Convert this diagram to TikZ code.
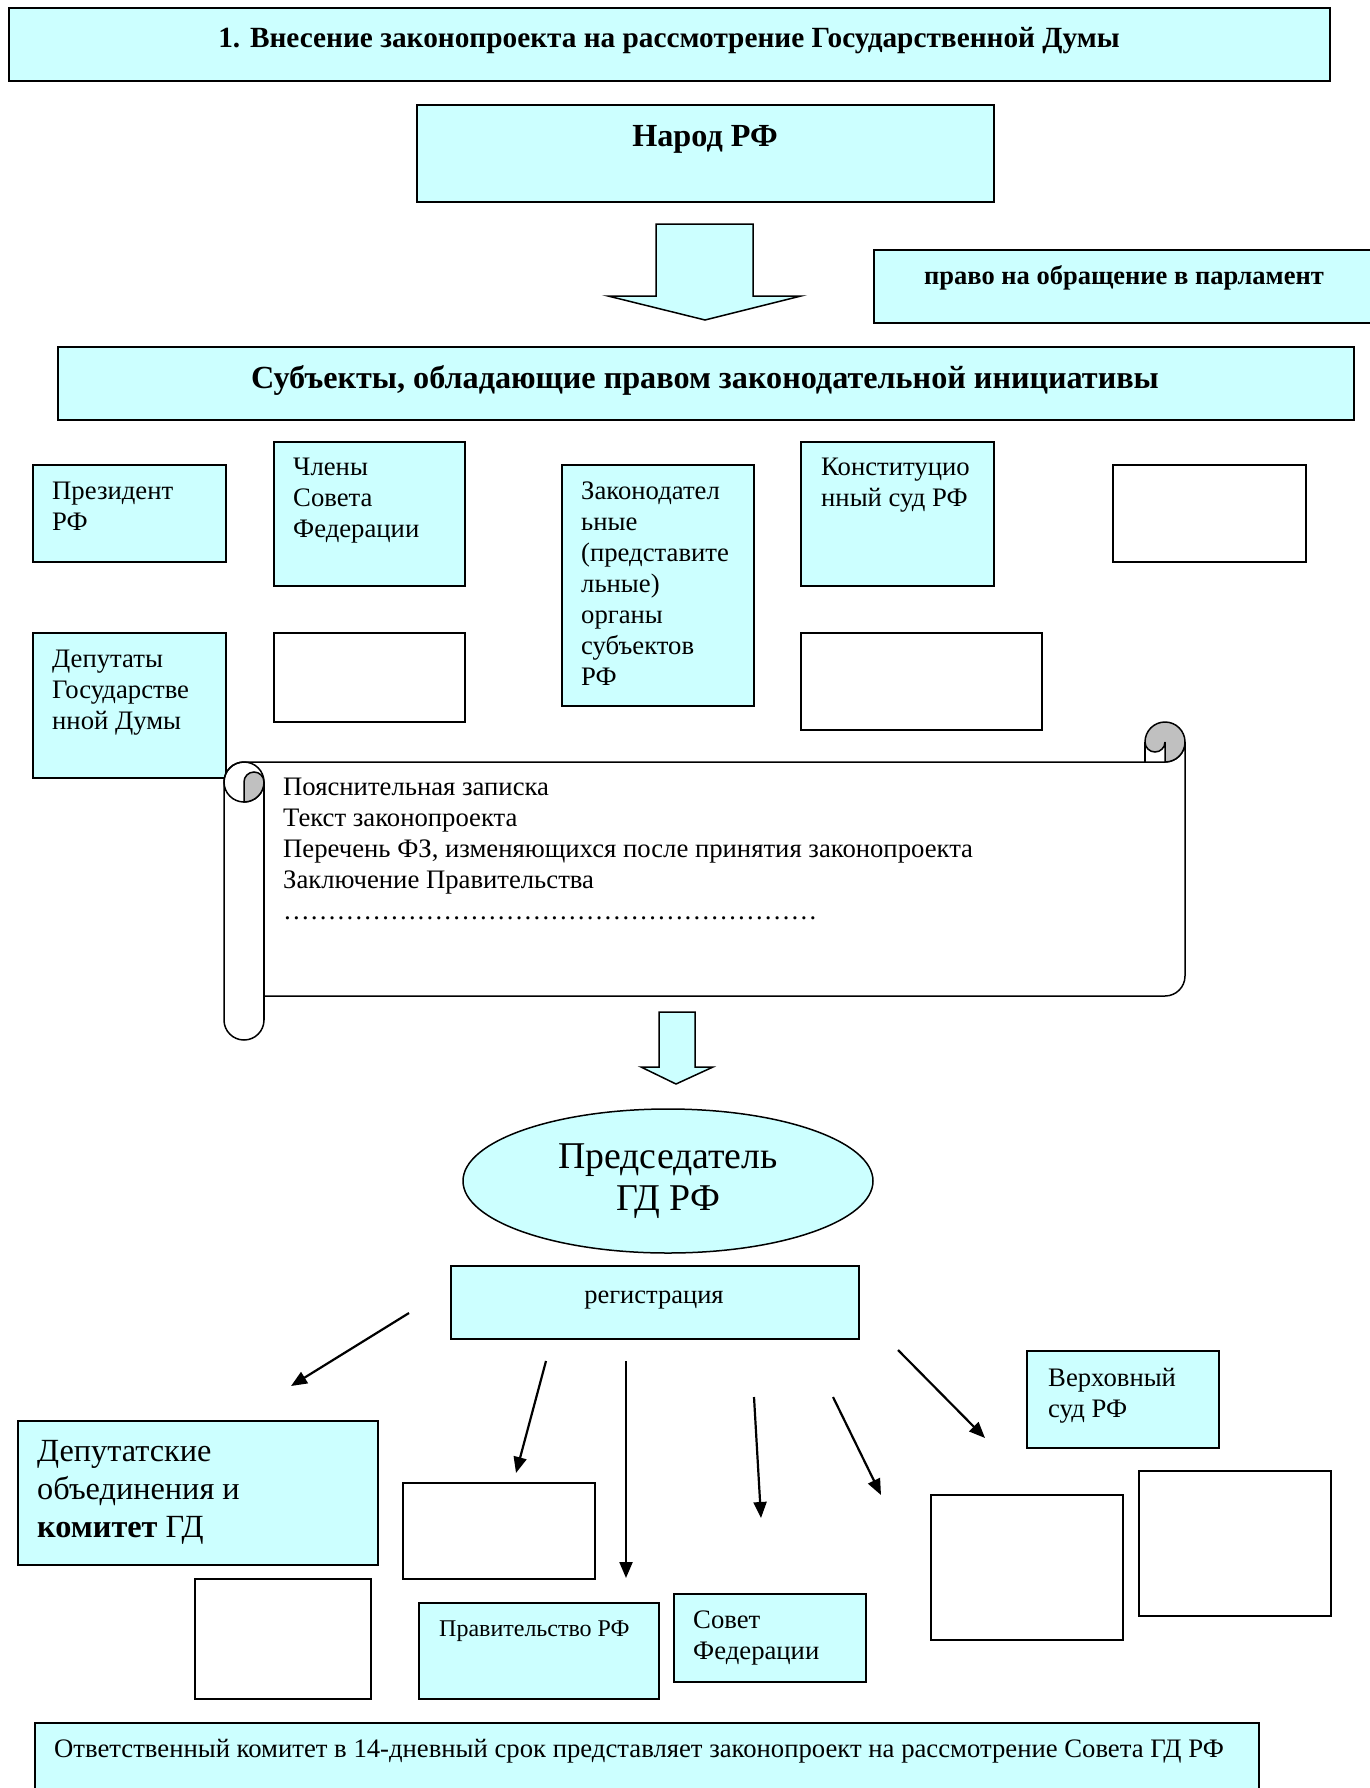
\documentclass[tikz,border=0pt]{standalone}
\usepackage{fontspec}
\setmainfont{Liberation Serif}
\usetikzlibrary{arrows.meta,shapes.geometric}

\definecolor{pale}{HTML}{CCFFFF}
\definecolor{curl}{HTML}{C0C0C0}

\begin{document}
\begin{tikzpicture}[x=1pt,y=-1pt,
  cbox/.style={draw, line width=1.5pt, fill=pale, anchor=north west, inner sep=0pt},
  wbox/.style={cbox, fill=white},
  txt/.style={anchor=base west, align=left, inner sep=0pt, font=\fontsize{26.7}{31}\selectfont},
  small/.style={txt, font=\fontsize{24}{29}\selectfont},
  head/.style={anchor=base, inner sep=0pt, font=\fontsize{29.3}{34}\selectfont\bfseries},
  bighead/.style={head, font=\fontsize{32.2}{38}\selectfont\bfseries},
  arr/.style={line width=2.2pt, -{Triangle[length=16pt,width=13pt]}},
  fat/.style={draw, line width=1.5pt, fill=pale},
  scroll/.style={draw, line width=1.5pt}]

\useasboundingbox (0,0) rectangle (1370,1788);

% boxes, top part
\node[cbox, minimum width=1321pt, minimum height=73pt] (title) at (8,7) {};
\node[head] (titleT) at (669,47) {1. Внесение законопроекта на рассмотрение Государственной Думы};
\node[cbox, minimum width=577pt, minimum height=97pt] (narod) at (416,104) {};
\node[bighead] (narodT) at (705,146) {Народ РФ};
\node[cbox, minimum width=520pt, minimum height=73pt] (pravo) at (873,249) {};
\node[head, font=\fontsize{26.5}{31}\selectfont\bfseries] (pravoT) at (1124,284) {право на обращение в парламент};
\node[cbox, minimum width=1296pt, minimum height=73pt] (subj) at (57,346) {};
\node[bighead] (subjT) at (705,388) {Субъекты, обладающие правом законодательной инициативы};

\filldraw[fat] (656,224) -- (753,224) -- (753,296) -- (801,296) -- (705,320) -- (608,296) -- (656,296) -- cycle;

% subjects (text anchored at the baseline of its last line)
\node[cbox, minimum width=193pt, minimum height=97pt] (pres) at (32,464) {};
\node[txt] (presT) at (52,530) {Президент\\РФ};
\node[cbox, minimum width=191pt, minimum height=144pt] (sf) at (273,441) {};
\node[txt] (sfT) at (293,537) {Члены\\Совета\\Федерации};
\node[cbox, minimum width=192pt, minimum height=241pt] (leg) at (561,464) {};
\node[txt] (legT) at (581,685) {Законодател\\ьные\\(представите\\льные)\\органы\\субъектов\\РФ};
\node[cbox, minimum width=193pt, minimum height=144pt] (cc) at (800,441) {};
\node[txt] (ccT) at (821,506) {Конституцио\\нный суд РФ};
\node[wbox, minimum width=193pt, minimum height=97pt] (e1) at (1112,464) {};
\node[cbox, minimum width=193pt, minimum height=145pt] (dep) at (32,632) {};
\node[txt] (depT) at (52,729) {Депутаты\\Государстве\\нной Думы};
\node[wbox, minimum width=191pt, minimum height=89pt] (e2) at (273,632) {};
\node[wbox, minimum width=241pt, minimum height=97pt] (e3) at (800,632) {};

% scroll
\filldraw[scroll, fill=white] (244,762) -- (1165,762) arc[start angle=-90, end angle=0, radius=20pt]
  -- (1185,976) arc[start angle=0, end angle=-90, radius=20pt] -- (264,996) -- (264,1020)
  arc[start angle=0, end angle=-180, radius=20pt] -- (224,782) arc[start angle=180, end angle=90, radius=20pt] -- cycle;
\draw[scroll] (264,782) -- (264,1020);
\draw[scroll] (244,782) circle[radius=20pt];
\filldraw[scroll, fill=curl] (244,802) -- (244,782) arc[start angle=180, end angle=0, radius=10pt]
  arc[start angle=0, end angle=-90, radius=20pt] -- cycle;
\filldraw[scroll, fill=curl] (1165,762) arc[start angle=-90, end angle=180, radius=20pt]
  arc[start angle=180, end angle=360, radius=10pt] -- cycle;
\draw[scroll] (1145,742) -- (1145,762);
\node[txt, font=\fontsize{26.7}{30.8}\selectfont] (docs) at (283,919) {Пояснительная записка\\Текст законопроекта\\Перечень ФЗ, изменяющихся после принятия законопроекта\\Заключение Правительства\\……………………………………………………};

\filldraw[fat] (659,1012) -- (695,1012) -- (695,1067) -- (713,1067) -- (676,1084) -- (641,1067) -- (659,1067) -- cycle;

% chairman and registration
\node[ellipse, draw, line width=1.5pt, fill=pale, minimum width=410pt, minimum height=144pt, inner sep=0pt,
  align=center, font=\fontsize{37.8}{42}\selectfont] (chair) at (668,1181) {Председатель\\ГД РФ};
\node[cbox, minimum width=408pt, minimum height=73pt] (reg) at (450,1265) {};
\node[head, font=\fontsize{26.5}{31}\selectfont] (regT) at (654,1303) {регистрация};

% arrows
\coordinate (s1) at (409,1313); \coordinate (t1) at (291,1386);
\coordinate (s2) at (546,1361); \coordinate (t2) at (516,1473);
\coordinate (s3) at (626,1361); \coordinate (t3) at (626,1578);
\coordinate (s4) at (754,1397); \coordinate (t4) at (761,1518);
\coordinate (s5) at (833,1397); \coordinate (t5) at (881,1495);
\coordinate (s6) at (898,1350); \coordinate (t6) at (985,1438);
\draw[arr] (s1) -- (t1);
\draw[arr] (s2) -- (t2);
\draw[arr] (s3) -- (t3);
\draw[arr] (s4) -- (t4);
\draw[arr] (s5) -- (t5);
\draw[arr] (s6) -- (t6);

% receivers
\node[cbox, minimum width=192pt, minimum height=97pt] (vs) at (1026,1350) {};
\node[txt] (vsT) at (1048,1417) {Верховный\\суд РФ};
\node[cbox, minimum width=360pt, minimum height=144pt] (depob) at (17,1420) {};
\node[txt, font=\fontsize{32.3}{38}\selectfont] (depobT) at (37,1537) {Депутатские\\объединения и\\\textbf{комитет} ГД};
\node[wbox, minimum width=192pt, minimum height=96pt] (e4) at (402,1482) {};
\node[wbox, minimum width=176pt, minimum height=120pt] (e5) at (194,1578) {};
\node[cbox, minimum width=240pt, minimum height=96pt] (gov) at (418,1602) {};
\node[small] (govT) at (439,1636) {Правительство РФ};
\node[cbox, minimum width=192pt, minimum height=88pt] (sovfed) at (673,1593) {};
\node[txt] (sovfedT) at (693,1659) {Совет\\Федерации};
\node[wbox, minimum width=192pt, minimum height=145pt] (e6) at (930,1494) {};
\node[wbox, minimum width=192pt, minimum height=145pt] (e7) at (1138,1470) {};
\node[cbox, minimum width=1224pt, minimum height=90pt] (resp) at (34,1722) {};
\node[txt] (respT) at (54,1757) {Ответственный комитет в 14-дневный срок представляет законопроект на рассмотрение Совета ГД РФ};
\end{tikzpicture}
\end{document}
